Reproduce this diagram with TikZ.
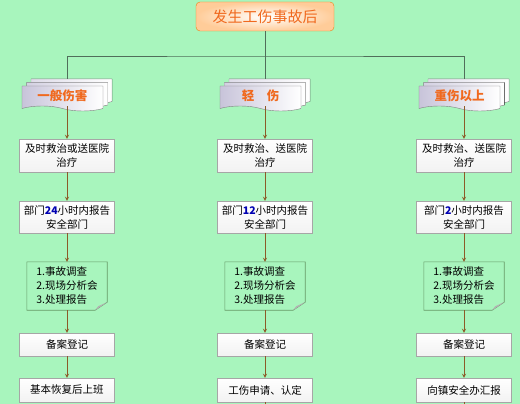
\documentclass[tikz,border=0pt]{standalone}
\usepackage{fontspec}
\setmainfont{Noto Sans CJK SC}
\usetikzlibrary{positioning,shapes.symbols,shadows,arrows}
\definecolor{bggreen}{HTML}{A8F5BD}
\definecolor{linkbrown}{RGB}{140,90,40}
\definecolor{hurtorange}{RGB}{240,105,30}
\definecolor{treeline}{RGB}{80,110,90}
\definecolor{lilac}{RGB}{200,196,218}
\tikzstyle{startstop} = [rectangle, rounded corners=4pt, minimum width=138pt, minimum height=29pt, text centered, draw=orange!70!brown, inner color=white, outer color=orange!40, text=hurtorange, font=\fontsize{15pt}{18pt}\selectfont]
\tikzstyle{grade} = [tape, tape bend top=none, tape bend bottom=out and in, tape bend height=5pt, minimum width=81pt, minimum height=25pt, draw=gray, left color=lilac, right color=white, text=hurtorange, font=\bfseries\fontsize{12.5pt}{15pt}\selectfont,
  copy shadow={shadow xshift=9pt, shadow yshift=7pt, draw=gray!80, left color=lilac!60, right color=white},
  copy shadow={shadow xshift=4.5pt, shadow yshift=3.5pt, draw=gray!80, left color=lilac!80, right color=white}]
\tikzstyle{process} = [rectangle, minimum width=95pt, inner sep=2pt, text centered, align=center, draw=gray!70, top color=white, bottom color=gray!10, font=\fontsize{10.5pt}{14pt}\selectfont]
\tikzstyle{memo} = [rectangle, minimum width=80pt, minimum height=48pt, inner sep=0pt, align=left, font=\fontsize{10.5pt}{14pt}\selectfont]
\tikzstyle{arrow} = [->,>=stealth, draw=linkbrown, line width=0.8pt]
\tikzstyle{tree} = [draw=treeline, line width=0.6pt]
\newcommand{\hours}[1]{{\bfseries\color{blue!70!black}#1}}

\begin{document}
\begin{tikzpicture}[node distance = 60pt]
	\useasboundingbox (0,0) rectangle (520pt,-404pt);
	\fill[bggreen] (0,0) rectangle (520pt,-404pt);

	\node[startstop](start) at (265pt,-16.5pt){发生工伤事故后};

	% first column
	\node[process, minimum height=33pt, below of =start, node distance=139pt, xshift=-198pt](cureL){及时救治或送医院\\治疗};
	\node[process, minimum height=32pt, below of =cureL, node distance=61.5pt](reportL){部门\hours{24}小时内报告\\安全部门};
	\node[memo, below of =reportL, node distance=69pt](checkL){1.事故调查\\2.现场分析会\\3.处理报告};
	\node[process, minimum height=23pt, below of =checkL, node distance=58.5pt](recordL){备案登记};
	\node[process, minimum height=24pt, below of =recordL, node distance=45.5pt](endL){基本恢复后上班};

	% second column
	\node[process, minimum height=33pt, right of =cureL, node distance=198pt](cureM){及时救治、送医院\\治疗};
	\node[process, minimum height=32pt, below of =cureM, node distance=61.5pt](reportM){部门\hours{12}小时内报告\\安全部门};
	\node[memo, below of =reportM, node distance=69pt](checkM){1.事故调查\\2.现场分析会\\3.处理报告};
	\node[process, minimum height=23pt, below of =checkM, node distance=58.5pt](recordM){备案登记};
	\node[process, minimum height=24pt, below of =recordM, node distance=45.5pt](endM){工伤申请、认定};

	% third column
	\node[process, minimum height=33pt, right of =cureM, node distance=199pt](cureR){及时救治、送医院\\治疗};
	\node[process, minimum height=32pt, below of =cureR, node distance=61.5pt](reportR){部门\hours{2}小时内报告\\安全部门};
	\node[memo, below of =reportR, node distance=69pt](checkR){1.事故调查\\2.现场分析会\\3.处理报告};
	\node[process, minimum height=23pt, below of =checkR, node distance=58.5pt](recordR){备案登记};
	\node[process, minimum height=24pt, below of =recordR, node distance=45.5pt](endR){向镇安全办汇报};

	% grades
	\node[grade, above of =cureL, node distance=59.5pt, xshift=-4.5pt](minorL){一般伤害};
	\node[grade, above of =cureM, node distance=59.5pt, xshift=-4.5pt](lightM){轻　伤};
	\node[grade, above of =cureR, node distance=59.5pt, xshift=-4.5pt](severeR){重伤以上};

	% note outlines
	\foreach \n in {checkL,checkM,checkR}{
		\draw[draw=gray!80!green, line width=0.6pt] (\n.north west) -- (\n.north east) -- ([yshift=8pt]\n.south east) -- ([xshift=-12pt]\n.south east) -- (\n.south west) -- cycle;
		\fill[gray!60] ([yshift=8pt]\n.south east) -- ([xshift=-12pt]\n.south east) -- ([xshift=-9pt,yshift=4pt]\n.south east) -- cycle;
	}

	\coordinate[below of =start, node distance=39.5pt](split);
	\coordinate[below of =endM, node distance=16pt](tailM);
	\coordinate[below of =endR, node distance=16pt](tailR);

	\draw [tree](start)--(split);
	\draw [tree]([xshift=4.5pt,yshift=7pt]minorL.north) |- (split) -| ([xshift=4.5pt,yshift=7pt]severeR.north);
	\draw [tree]([xshift=4.5pt,yshift=7pt]lightM.north) |- (split);

	\draw [arrow]([xshift=4.5pt]minorL.south)--(cureL);
	\draw [arrow](cureL)--(reportL);
	\draw [arrow](reportL)--(checkL);
	\draw [arrow](checkL)--(recordL);
	\draw [arrow](recordL)--(endL);

	\draw [arrow]([xshift=4.5pt]lightM.south)--(cureM);
	\draw [arrow](cureM)--(reportM);
	\draw [arrow](reportM)--(checkM);
	\draw [arrow](checkM)--(recordM);
	\draw [arrow](recordM)--(endM);
	\draw [draw=linkbrown, line width=0.8pt](endM)--(tailM);

	\draw [arrow]([xshift=4.5pt]severeR.south)--(cureR);
	\draw [arrow](cureR)--(reportR);
	\draw [arrow](reportR)--(checkR);
	\draw [arrow](checkR)--(recordR);
	\draw [arrow](recordR)--(endR);
	\draw [draw=linkbrown, line width=0.8pt](endR)--(tailR);
\end{tikzpicture}
\end{document}
